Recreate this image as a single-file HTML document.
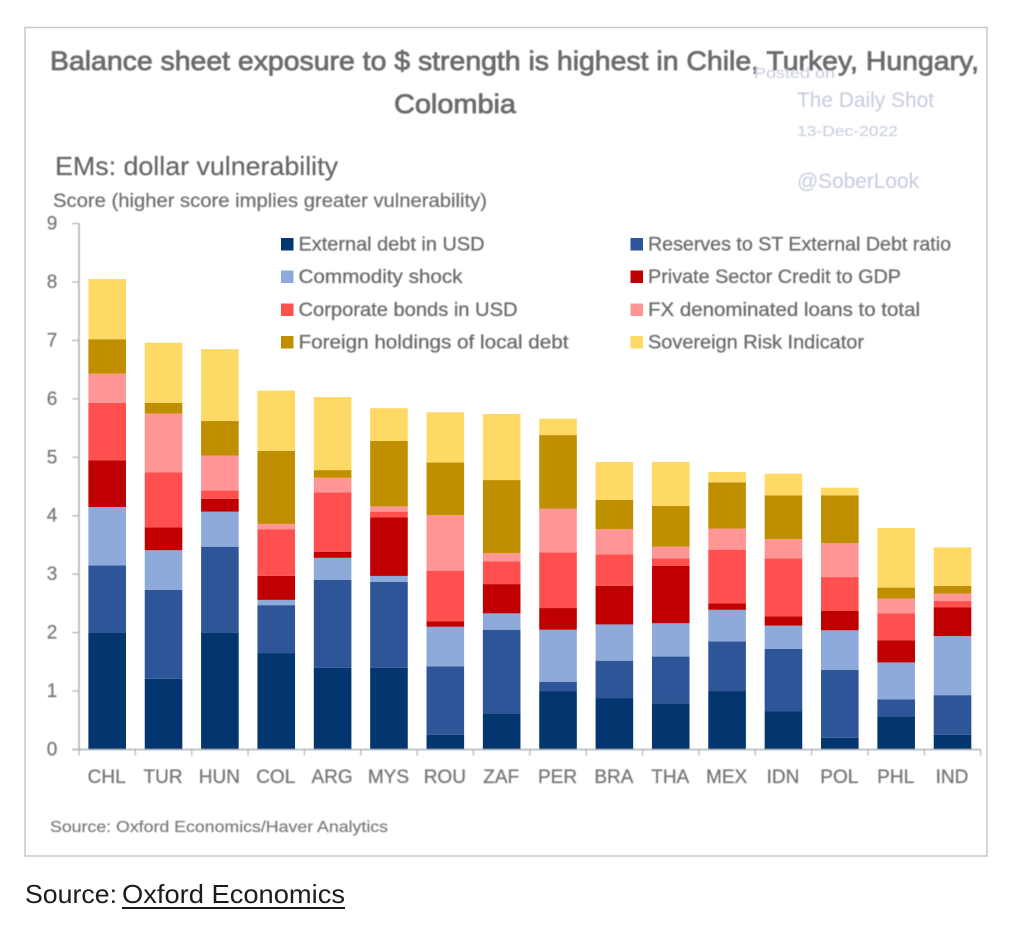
<!DOCTYPE html>
<html lang="en">
<head>
<meta charset="utf-8">
<title>EMs: dollar vulnerability</title>
<style>
html,body{margin:0;padding:0;background:#fff;}
svg{display:block;}
text{font-family:"Liberation Sans",sans-serif;}
</style>
</head>
<body>
<svg id="chart" xmlns="http://www.w3.org/2000/svg" width="1014" height="938" viewBox="0 0 1014 938">
  <defs>
    <filter id="soft" x="-5%" y="-20%" width="110%" height="140%"><feGaussianBlur stdDeviation="0.45"/></filter>
  </defs>
  <rect x="0" y="0" width="1014" height="938" fill="#ffffff"/>
  <rect x="25" y="27.5" width="962" height="828.5" fill="#ffffff" stroke="#c9c9c9" stroke-width="1.5"/>

  <g id="bars"></g>
  <g id="axes" filter="url(#soft)"></g>
  <g id="legend"></g>

  <g filter="url(#soft)">
    <text x="50" y="70" font-size="27" fill="#6c6c6c" stroke="#6c6c6c" stroke-width="0.8" textLength="929" lengthAdjust="spacingAndGlyphs">Balance sheet exposure to $ strength is highest in Chile, Turkey, Hungary,</text>
    <text x="394" y="113" font-size="27" fill="#6c6c6c" stroke="#6c6c6c" stroke-width="0.8" textLength="122" lengthAdjust="spacingAndGlyphs">Colombia</text>
    <text x="55" y="175" font-size="26" fill="#666666" stroke="#666666" stroke-width="0.2" textLength="283" lengthAdjust="spacingAndGlyphs">EMs: dollar vulnerability</text>
    <text x="53" y="207" font-size="19" fill="#707070" stroke="#707070" stroke-width="0.25" textLength="434" lengthAdjust="spacingAndGlyphs">Score (higher score implies greater vulnerability)</text>
    <text x="50" y="832" font-size="16" fill="#7c7c7c" stroke="#7c7c7c" stroke-width="0.2" textLength="338" lengthAdjust="spacingAndGlyphs">Source: Oxford Economics/Haver Analytics</text>
    <text x="754" y="78" font-size="15" fill="#c6cbdd" textLength="81" lengthAdjust="spacingAndGlyphs">Posted on</text>
    <text x="797" y="107" font-size="21" fill="#c6cbdd" textLength="137" lengthAdjust="spacingAndGlyphs">The Daily Shot</text>
    <text x="797" y="136" font-size="15" fill="#c6cbdd" textLength="101" lengthAdjust="spacingAndGlyphs">13-Dec-2022</text>
    <text x="797" y="188" font-size="21" fill="#c6cbdd" textLength="122" lengthAdjust="spacingAndGlyphs">@SoberLook</text>
  </g>

  <text x="25" y="903" font-size="26" fill="#1c1c1c" textLength="92" lengthAdjust="spacingAndGlyphs">Source:</text>
  <text x="122" y="903" font-size="26" fill="#1c1c1c" textLength="223" lengthAdjust="spacingAndGlyphs">Oxford Economics</text>
  <rect x="122" y="907" width="223" height="2" fill="#1c1c1c"/>
</svg>

<script>
const categories = ["CHL","TUR","HUN","COL","ARG","MYS","ROU","ZAF","PER","BRA","THA","MEX","IDN","POL","PHL","IND"];
const yTickLabels = [0,1,2,3,4,5,6,7,8,9];
const seriesNames = ["External debt in USD","Reserves to ST External Debt ratio","Commodity shock","Private Sector Credit to GDP","Corporate bonds in USD","FX denominated loans to total","Foreign holdings of local debt","Sovereign Risk Indicator"];
const seriesColors = ["#03356f","#2e5598","#8eaadb","#c00000","#ff4f4f","#ff9595","#bf8f00","#ffd966"];
const externalDebt = [2.0,1.21,2.0,1.65,1.4,1.4,0.25,0.62,1.0,0.88,0.79,1.0,0.65,0.2,0.57,0.25];
const reservesRatio = [1.15,1.52,1.47,0.82,1.5,1.47,1.17,1.43,0.16,0.64,0.8,0.85,1.07,1.16,0.29,0.68];
const commodityShock = [1.0,0.68,0.6,0.09,0.38,0.1,0.68,0.28,0.89,0.62,0.57,0.54,0.4,0.68,0.63,1.01];
const privateCredit = [0.8,0.39,0.22,0.41,0.1,1.0,0.09,0.5,0.37,0.66,0.98,0.11,0.16,0.33,0.38,0.49];
const corporateBonds = [0.98,0.94,0.14,0.8,1.02,0.1,0.87,0.39,0.95,0.54,0.13,0.92,0.99,0.58,0.46,0.11];
const fxLoans = [0.5,1.01,0.6,0.09,0.25,0.09,0.95,0.14,0.75,0.43,0.2,0.36,0.33,0.58,0.25,0.13];
const foreignHoldings = [0.59,0.18,0.59,1.25,0.13,1.12,0.9,1.25,1.26,0.5,0.7,0.79,0.75,0.82,0.19,0.13];
const sovereignRisk = [1.03,1.03,1.23,1.03,1.25,0.56,0.86,1.13,0.28,0.65,0.75,0.18,0.37,0.13,1.02,0.66];
const seriesValues = [externalDebt,reservesRatio,commodityShock,privateCredit,corporateBonds,fxLoans,foreignHoldings,sovereignRisk];

const NS = "http://www.w3.org/2000/svg";
const plotLeft = 79, plotRight = 980.7, plotBottom = 749.5, plotTop = 223.5, yMax = 9;
const step = (plotRight - plotLeft) / categories.length;
const barWidth = 37.6;
function yScale(v) { return plotBottom - (v / yMax) * (plotBottom - plotTop); }
function xCenter(i) { return plotLeft + step * (i + 0.5); }
function make(tag, attrs) {
  const el = document.createElementNS(NS, tag);
  for (const k in attrs) el.setAttribute(k, attrs[k]);
  return el;
}

const barsGroup = document.getElementById("bars");
categories.forEach(function (cat, i) {
  let cum = 0;
  seriesValues.forEach(function (vals, s) {
    const v = vals[i];
    const y1 = yScale(cum), y2 = yScale(cum + v);
    const seg = make("rect", {x: xCenter(i) - barWidth / 2, y: y2, width: barWidth, height: y1 - y2, fill: seriesColors[s]});
    
    
    barsGroup.appendChild(seg);
    cum += v;
  });
});

const axes = document.getElementById("axes");
const axisColor = "#adb0b6";
const yAxisLine = make("line", {x1: plotLeft, y1: plotTop, x2: plotLeft, y2: plotBottom, stroke: axisColor, "stroke-width": 1.6});


axes.appendChild(yAxisLine);
const xAxisLine = make("line", {x1: plotLeft - 7, y1: plotBottom, x2: plotRight, y2: plotBottom, stroke: axisColor, "stroke-width": 1.4});


axes.appendChild(xAxisLine);

yTickLabels.forEach(function (t) {
  const y = yScale(t);
  const tick = make("line", {x1: plotLeft - 7, y1: y, x2: plotLeft, y2: y, stroke: axisColor, "stroke-width": 1.2});
  
  
  axes.appendChild(tick);
  const lab = make("text", {x: 52, y: y + 6, "font-size": 19, fill: "#777777", "text-anchor": "middle", "stroke": "#777777", "stroke-width": 0.25});
  lab.textContent = t;
  
  
  axes.appendChild(lab);
});

for (let i = 0; i <= categories.length; i++) {
  const x = plotLeft + step * i;
  const tick = make("line", {x1: x, y1: plotBottom, x2: x, y2: plotBottom + 6, stroke: axisColor, "stroke-width": 1.2});
  
  
  axes.appendChild(tick);
}
categories.forEach(function (cat, i) {
  const lab = make("text", {x: xCenter(i) - 0.5, y: 783, "font-size": 19, fill: "#777777", "text-anchor": "middle", "stroke": "#777777", "stroke-width": 0.3});
  lab.textContent = cat;
  
  
  axes.appendChild(lab);
});

const legendGroup = document.getElementById("legend");
const legendRowY = [244, 276.5, 309.5, 342];
const legendColX = [281, 630.5];
const legendWidths = [186, 303, 164, 253, 219, 272, 270, 216];
seriesNames.forEach(function (name, s) {
  const col = s % 2, row = Math.floor(s / 2);
  const sw = make("rect", {x: legendColX[col], y: legendRowY[row] - 6, width: 12.5, height: 12.5, fill: seriesColors[s]});
  
  
  legendGroup.appendChild(sw);
  const lab = make("text", {x: legendColX[col] + 17.5, y: legendRowY[row] + 6.5, "font-size": 19, fill: "#6c6c6c", stroke: "#6c6c6c", "stroke-width": 0.3, textLength: legendWidths[s], lengthAdjust: "spacingAndGlyphs", filter: "url(#soft)"});
  lab.textContent = name;
  
  
  legendGroup.appendChild(lab);
});
</script>
</body>
</html>
